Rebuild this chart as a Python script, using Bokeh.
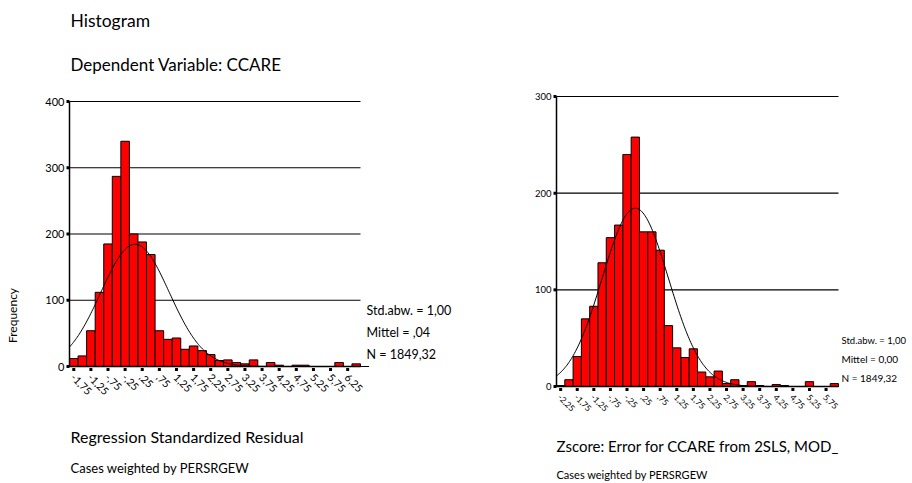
import math
from bokeh.plotting import figure
from bokeh.layouts import row
from bokeh.models import Range1d
from bokeh.core.properties import value
from bokeh.embed import file_html
from bokeh.resources import INLINE

# Left histogram: bin centers and counts
left_centers = [-1.75 + 0.25 * i for i in range(35)]
left_counts = [12, 16, 54, 112, 185, 287, 340, 200, 188, 169, 54, 41, 43, 26, 31, 24,
               18, 9, 10, 6, 4, 10, 0, 6, 2, 0, 2, 2, 0, 0, 0, 6, 0, 4, 0]
left_ticks = [-1.75 + 0.5 * i for i in range(17)]
left_yticks = [0, 100, 200, 300, 400]
left_mean, left_sd, left_n = 0.04, 1.00, 1849.32

# Right histogram
right_centers = [-2.25 + 0.25 * i for i in range(34)]
right_counts = [1, 7, 31, 70, 83, 128, 154, 167, 240, 258, 160, 160, 141, 63, 40, 30, 39,
                15, 10, 16, 3, 7, 1, 5, 1, 0, 2, 1, 0, 0, 5, 0, 0, 3]
right_ticks = [-2.25 + 0.5 * i for i in range(17)]
right_yticks = [0, 100, 200, 300]
right_mean, right_sd, right_n = 0.00, 1.00, 1849.32

FONT = value("Lato")
H = 481


def fmt(v):
    s = f"{abs(v):.2f}".replace(".", ",")
    if s.startswith("0"):
        s = s[1:]
    return ("-" if v < 0 else "") + s


class Chart:
    def __init__(self, w, px0, px1, xr, py0, py1, ymax):
        self.sx = (px1 - px0) / (xr[1] - xr[0])
        self.sy = (py0 - py1) / ymax
        self.x0 = xr[0] - px0 / self.sx
        self.y0 = -(H - py0) / self.sy
        self.xr, self.ymax = xr, ymax
        self.p = figure(width=w, height=H, output_backend="svg", toolbar_location=None,
                        x_range=Range1d(self.x0, self.x0 + w / self.sx),
                        y_range=Range1d(self.y0, self.y0 + H / self.sy),
                        min_border=0)
        self.p.axis.visible = False
        self.p.grid.visible = False
        self.p.outline_line_color = None

    def X(self, px):
        return self.x0 + px / self.sx

    def Y(self, py):
        return self.y0 + (H - py) / self.sy

    def dx(self, px):
        return px / self.sx

    def dy(self, py):
        return py / self.sy

    def text(self, px, py, t, size, angle=0.0, align="left"):
        self.p.text(x=[self.X(px)], y=[self.Y(py)], text=[t], text_font=FONT,
                    text_font_size=size, text_color="black", text_baseline="middle",
                    text_align=align, angle=angle)

    def hist(self, centers, counts, ticks, yticks, mean, sd, n, fs, yfs):
        p = self.p
        xa, xb = self.xr
        p.segment(x0=[xa] * len(yticks[1:]), x1=[xb] * len(yticks[1:]), y0=yticks[1:], y1=yticks[1:],
                  line_color="black", line_width=1.2)
        p.vbar(x=centers, top=counts, width=0.25, bottom=0, fill_color="#ff0000",
               line_color="black", line_width=1)
        xs = [xa + (xb - xa) * i / 300 for i in range(301)]
        ys = [n * 0.25 / (sd * math.sqrt(2 * math.pi)) * math.exp(-0.5 * ((x - mean) / sd) ** 2) for x in xs]
        p.line(xs, ys, line_color="black", line_width=1)
        p.segment(x0=[xa], x1=[xb], y0=[0], y1=[0], line_color="black", line_width=1.5)
        p.segment(x0=[xa], x1=[xa], y0=[0], y1=[self.ymax], line_color="black", line_width=1.5)
        p.rect(x=ticks, y=[-self.dy(3)] * len(ticks), width=self.dx(3), height=self.dy(3),
               fill_color="black", line_color=None)
        p.rect(x=[xa - self.dx(1.5)] * len(yticks), y=yticks, width=self.dx(3), height=self.dy(3),
               fill_color="black", line_color=None)
        p.text(x=[t - self.dx(1) for t in ticks], y=[-self.dy(9)] * len(ticks),
               text=[fmt(t) for t in ticks], angle=-math.pi / 4, text_font=FONT,
               text_font_size=fs, text_color="black", text_align="left", text_baseline="middle")
        p.text(x=[xa - self.dx(5)] * len(yticks), y=yticks, text=[str(v) for v in yticks],
               text_font=FONT, text_font_size=yfs, text_color="black",
               text_align="right", text_baseline="middle")


W1, W2 = 488, 422
c1 = Chart(W1, 69, 360, (-1.875, 6.625), 366, 101, 400)
c1.hist(left_centers, left_counts, left_ticks, left_yticks, left_mean, left_sd, left_n, "10.5px", "11px")
c1.text(70, 20, "Histogram", "17.5px")
c1.text(70, 64, "Dependent Variable: CCARE", "17px")
c1.text(12, 315, "Frequency", "12px", angle=math.pi / 2, align="center")
c1.text(366, 310, "Std.abw. = 1,00", "12.5px")
c1.text(366, 332, "Mittel = ,04", "12.5px")
c1.text(366, 354, "N = 1849,32", "12.5px")
c1.text(70, 436, "Regression Standardized Residual", "16px")
c1.text(70, 467, "Cases weighted by PERSRGEW", "13px")

c2 = Chart(W2, 556 - 488, 838 - 488, (-2.375, 6.125), 386, 96, 300)
c2.hist(right_centers, right_counts, right_ticks, right_yticks, right_mean, right_sd, right_n, "8.5px", "9.5px")
c2.text(841 - 488, 340, "Std.abw. = 1,00", "9.5px")
c2.text(841 - 488, 358, "Mittel = 0,00", "10px")
c2.text(841 - 488, 377, "N = 1849,32", "10px")
c2.text(556 - 488, 445, "Zscore:  Error for CCARE from 2SLS, MOD_", "15px")
c2.text(556 - 488, 474, "Cases weighted by PERSRGEW", "11px")

layout = row(c1.p, c2.p)
open("out.html", "w").write(file_html(layout, INLINE))
